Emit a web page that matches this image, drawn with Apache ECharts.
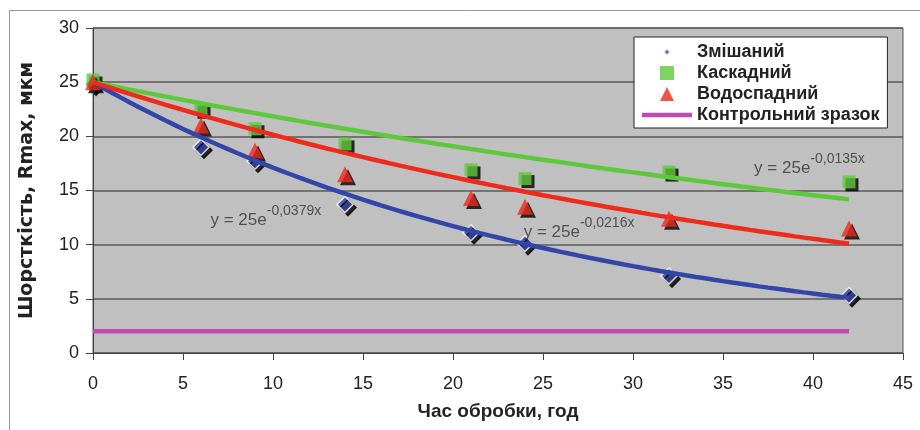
<!DOCTYPE html>
<html>
<head>
<meta charset="utf-8">
<script src="https://cdn.jsdelivr.net/npm/echarts@6/dist/echarts.min.js"></script>
<style>
html, body { margin: 0; padding: 0; background: #fff; }
#chart { width: 920px; height: 430px; }
</style>
</head>
<body>
<div id="chart"></div>
<script>
// Дані
const hours = [0, 6, 9, 14, 21, 24, 32, 42];
const mixed = [24.8, 19.0, 17.7, 13.7, 11.1, 10.1, 7.1, 5.3];
const cascade = [25.2, 22.5, 20.7, 19.3, 16.9, 16.1, 16.7, 15.8];
const waterfall = [25.0, 21.0, 18.7, 16.5, 14.3, 13.5, 12.4, 11.5];
const controlX = [0, 42];
const controlY = [2, 2];
// Лінії тренду y = a*e^(k*x): змішаний, каскадний, водоспадний
const trendA = [25, 25, 25];
const trendK = [-0.0379, -0.0135, -0.0216];
const trendLabels = ['-0,0379x', '-0,0135x', '-0,0216x'];

const FONT = 'Liberation Sans, Arial, sans-serif';
const colors = ['#3345a8', '#5ec83c', '#ee2a1a', '#c04cb0'];

function trend(i) {
    const pts = [];
    for (let x = 0; x <= 42; x += 0.5) pts.push([x, trendA[i] * Math.exp(trendK[i] * x)]);
    return pts;
}

const chart = echarts.init(document.getElementById('chart'));

const shadow = { shadowColor: '#000', shadowBlur: 0, shadowOffsetX: 3, shadowOffsetY: 3 };

const scatterNames = ['Змішаний', 'Каскадний', 'Водоспадний'];
const scatterData = [mixed, cascade, waterfall];
const symbols = ['diamond', 'rect', 'triangle'];
const sizes = [16, 13, 16];

const series = [];
scatterData.forEach((vals, i) => {
    series.push({
        name: scatterNames[i],
        type: 'scatter',
        symbol: symbols[i],
        symbolSize: sizes[i],
        z: 2,
        itemStyle: Object.assign({
            color: colors[i],
            borderColor: i === 0 ? '#fff' : colors[i],
            borderWidth: i === 0 ? 1.5 : 0
        }, shadow),
        data: hours.map((h, j) => [h, vals[j]])
    });
});

// лінії тренду
[0, 1, 2].forEach(i => {
    series.push({
        name: 'trend' + i,
        type: 'line',
        showSymbol: false,
        symbol: 'none',
        z: 3,
        silent: true,
        lineStyle: { color: colors[i], width: 4.5 },
        data: trend(i)
    });
});

series.push({
    name: 'Контрольний зразок',
    type: 'line',
    symbol: 'none',
    showSymbol: false,
    z: 3,
    lineStyle: { color: colors[3], width: 4.5 },
    itemStyle: { color: colors[3] },
    data: controlX.map((x, j) => [x, controlY[j]])
});

// підписи рівнянь (лівий край тексту)
const eqCoords = [[6.5, 12.6], [36.7, 17.4], [23.9, 11.5]];
series.push({
    name: 'eq',
    type: 'scatter',
    symbolSize: 1,
    silent: true,
    z: 4,
    itemStyle: { color: 'rgba(0,0,0,0)' },
    label: {
        show: true,
        position: 'right',
        distance: 0,
        formatter: p => '{b|y = ' + trendA[p.dataIndex] + 'e}{s|' + trendLabels[p.dataIndex] + '}',
        rich: {
            b: { fontFamily: FONT, fontSize: 17, color: '#333', verticalAlign: 'bottom', lineHeight: 24 },
            s: { fontFamily: FONT, fontSize: 14, color: '#333', verticalAlign: 'top', lineHeight: 24 }
        }
    },
    data: eqCoords
});

const option = {
    animation: false,
    backgroundColor: '#fff',
    grid: {
        left: 93, right: 17, top: 28, bottom: 77,
        show: true,
        backgroundColor: '#c0c0c0',
        borderColor: '#555',
        borderWidth: 1
    },
    legend: {
        orient: 'vertical',
        left: 634,
        top: 37,
        padding: [6, 8, 4, 8],
        itemGap: 3,
        itemWidth: 50,
        itemHeight: 14,
        backgroundColor: '#fff',
        borderColor: '#222',
        borderWidth: 1,
        borderRadius: 0,
        symbolKeepAspect: true,
        textStyle: { fontFamily: FONT, fontSize: 18, fontWeight: 'bold', color: '#222', lineHeight: 18 },
        data: [
            { name: 'Змішаний', icon: 'path://M0,0 M7,3.5 L10.5,7 L7,10.5 L3.5,7 Z M14,14' },
            { name: 'Каскадний', icon: 'path://M0,0 L14,0 L14,14 L0,14 Z' },
            { name: 'Водоспадний', icon: 'path://M7,0 L14,14 L0,14 Z' },
            { name: 'Контрольний зразок', icon: 'path://M0,0 L50,0 L50,4.5 L0,4.5 Z' }
        ]
    },
    xAxis: {
        type: 'value',
        min: 0, max: 45, interval: 5,
        name: 'Час обробки, год',
        nameLocation: 'middle',
        nameGap: 49,
        nameTextStyle: { fontFamily: FONT, fontSize: 19, fontWeight: 'bold', color: '#222' },
        axisLine: { show: true, lineStyle: { color: '#444', width: 1 } },
        axisTick: { show: true, length: 7, lineStyle: { color: '#444' } },
        axisLabel: { fontFamily: FONT, fontSize: 18, color: '#222', margin: 22 },
        splitLine: { show: false }
    },
    yAxis: {
        type: 'value',
        min: 0, max: 30, interval: 5,
        name: 'Шорсткість, Rmax, мкм',
        nameLocation: 'middle',
        nameGap: 56,
        nameTextStyle: { fontFamily: 'DejaVu Sans, ' + FONT, fontSize: 19, fontWeight: 'bold', color: '#222' },
        axisLine: { show: true, lineStyle: { color: '#444', width: 1 } },
        axisTick: { show: true, length: 7, lineStyle: { color: '#444' } },
        axisLabel: { fontFamily: FONT, fontSize: 18, color: '#222', margin: 14 },
        splitLine: { show: true, lineStyle: { color: '#5a5a5a', width: 1.5 } }
    },
    graphic: [{
        type: 'rect',
        left: 7, top: 8,
        shape: { width: 930, height: 440 },
        style: { fill: 'none', stroke: '#999', lineWidth: 1 },
        silent: true,
        z: -10
    }],
    series: series
};

chart.setOption(option);
</script>
</body>
</html>
